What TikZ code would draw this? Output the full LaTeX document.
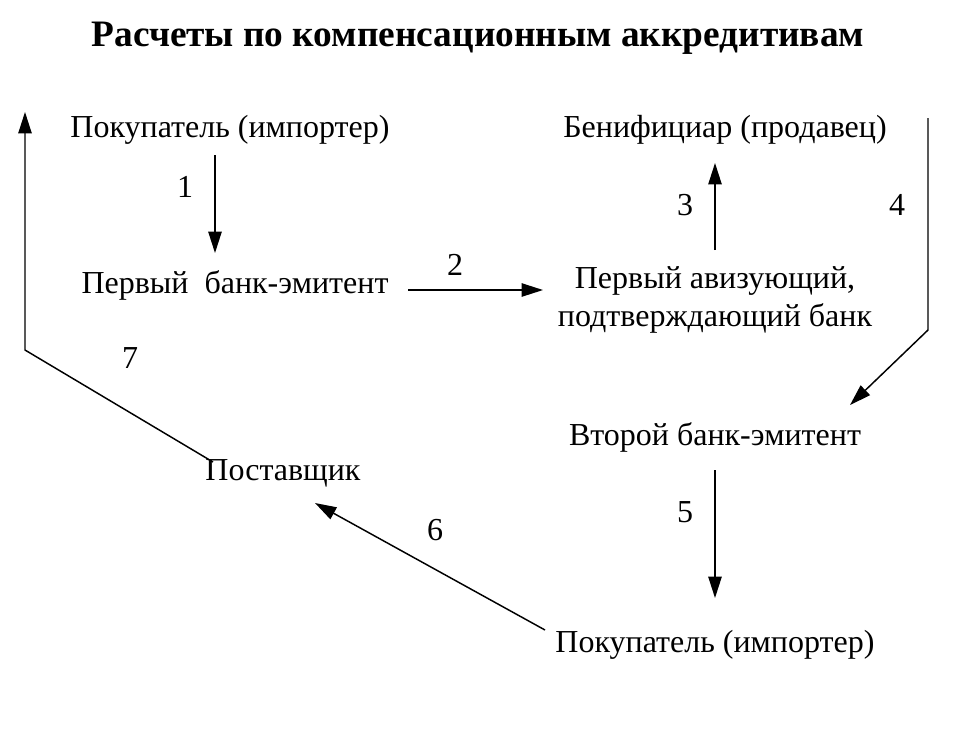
\documentclass[tikz,border=0pt]{standalone}
\usepackage{fontspec}
\setmainfont{Liberation Serif}
\usetikzlibrary{arrows.meta}
\begin{document}
\begin{tikzpicture}[x=0.75pt,y=-0.75pt,
  lbl/.style={font=\fontsize{24}{28}\selectfont, inner sep=0pt, align=center},
  num/.style={font=\fontsize{24}{28}\selectfont, inner sep=0pt},
  arr/.style={line width=1.1pt,-{Triangle[length=16pt,width=10pt]}},
  ln/.style={line width=1.1pt}]
\useasboundingbox (0,0) rectangle (956,744);
\node[font=\fontsize{28}{32}\selectfont\bfseries, inner sep=0pt] (title) at (478,38) {Расчеты по компенсационным аккредитивам};
\node[lbl] (buy1) at (230,130) {Покупатель (импортер)};
\node[lbl] (ben) at (725,130) {Бенифициар (продавец)};
\node[lbl] (em1) at (235,285) {Первый\ \ банк-эмитент};
\node[lbl] (avis) at (715,300) {Первый авизующий,\\подтверждающий банк};
\node[lbl] (em2) at (715,437) {Второй банк-эмитент};
\node[lbl] (sup) at (283,473) {Поставщик};
\node[lbl] (buy2) at (715,645) {Покупатель (импортер)};
\coordinate (a1s) at (215,155); \coordinate (a1e) at (215,253);
\coordinate (a2s) at (408,290); \coordinate (a2e) at (543,290);
\coordinate (a3s) at (715,250); \coordinate (a3e) at (715,163);
\coordinate (a4a) at (928,118); \coordinate (a4b) at (928,330); \coordinate (a4e) at (850,405);
\coordinate (a5s) at (715,470); \coordinate (a5e) at (715,598);
\coordinate (a6s) at (545,630); \coordinate (a6e) at (315,503);
\coordinate (a7a) at (213,462); \coordinate (a7b) at (25,350); \coordinate (a7e) at (25,112);
\draw[arr] (a1s) -- (a1e);
\draw[arr] (a2s) -- (a2e);
\draw[arr] (a3s) -- (a3e);
\draw[arr] (a4a) -- (a4b) -- (a4e);
\draw[arr] (a5s) -- (a5e);
\draw[arr] (a6s) -- (a6e);
\draw[arr] (a7a) -- (a7b) -- (a7e);
\node[num] (n1) at (185,187) {1};
\node[num] (n2) at (455,265) {2};
\node[num] (n3) at (685,205) {3};
\node[num] (n4) at (897,205) {4};
\node[num] (n5) at (685,512) {5};
\node[num] (n6) at (435,530) {6};
\node[num] (n7) at (130,358) {7};
\end{tikzpicture}
\end{document}
